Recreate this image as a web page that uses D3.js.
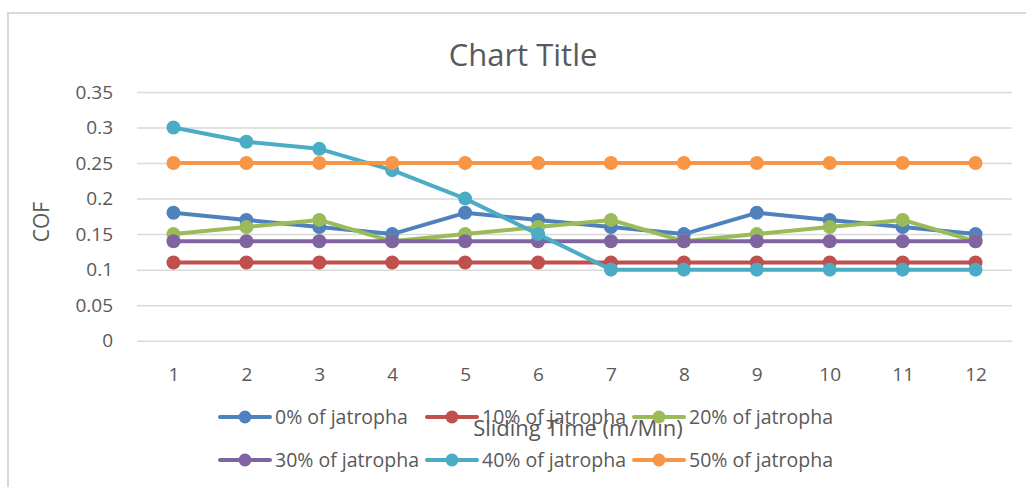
<!DOCTYPE html>
<html>
<head>
<meta charset="utf-8">
<script src="https://cdn.jsdelivr.net/npm/d3@7"></script>
<style>
  html, body { margin: 0; padding: 0; background: #fff; }
  svg { display: block; font-family: "Open Sans", "Noto Sans", sans-serif; }
</style>
</head>
<body>
<svg id="chart" width="1026" height="487"></svg>
<script>
// Sliding time categories (x axis)
const categories = [1, 2, 3, 4, 5, 6, 7, 8, 9, 10, 11, 12];

// Coefficient of friction per blend
const jatropha0  = [0.18, 0.17, 0.16, 0.15, 0.18, 0.17, 0.16, 0.15, 0.18, 0.17, 0.16, 0.15];
const jatropha10 = [0.11, 0.11, 0.11, 0.11, 0.11, 0.11, 0.11, 0.11, 0.11, 0.11, 0.11, 0.11];
const jatropha20 = [0.15, 0.16, 0.17, 0.14, 0.15, 0.16, 0.17, 0.14, 0.15, 0.16, 0.17, 0.14];
const jatropha30 = [0.14, 0.14, 0.14, 0.14, 0.14, 0.14, 0.14, 0.14, 0.14, 0.14, 0.14, 0.14];
const jatropha40 = [0.30, 0.28, 0.27, 0.24, 0.20, 0.15, 0.10, 0.10, 0.10, 0.10, 0.10, 0.10];
const jatropha50 = [0.25, 0.25, 0.25, 0.25, 0.25, 0.25, 0.25, 0.25, 0.25, 0.25, 0.25, 0.25];

const seriesNames = ["0% of jatropha", "10% of jatropha", "20% of jatropha",
                     "30% of jatropha", "40% of jatropha", "50% of jatropha"];
const yTicks = [0, 0.05, 0.1, 0.15, 0.2, 0.25, 0.3, 0.35];

const seriesValues = [jatropha0, jatropha10, jatropha20, jatropha30, jatropha40, jatropha50];
const colors = ["#4F81BD", "#C0504D", "#9BBB59", "#8064A2", "#4BACC6", "#F79646"];

const svg = d3.select("#chart");
const textColor = "#595959";

// chart frame
svg.append("path")
  .attr("d", "M8,487 V13 H1026")
  .attr("fill", "none")
  .attr("stroke", "#D9D9D9")
  .attr("stroke-width", 2);

const plot = { left: 137, right: 1012, top: 92, bottom: 340.7 };

const x = d3.scalePoint()
  .domain(categories)
  .range([plot.left, plot.right])
  .padding(0.5);

const y = d3.scaleLinear()
  .domain([0, 0.35])
  .range([plot.bottom, plot.top]);

// title
svg.append("text")
  .attr("x", 523)
  .attr("y", 66)
  .attr("text-anchor", "middle")
  .attr("font-size", 31)
  .attr("fill", textColor)
  .text("Chart Title");

// horizontal gridlines + y tick labels
const yAxis = d3.axisLeft(y)
  .tickValues(yTicks)
  .tickSize(-(plot.right - plot.left))
  .tickPadding(24)
  .tickFormat(d => d3.format("~g")(d));

const gy = svg.append("g")
  .attr("transform", `translate(${plot.left},0)`)
  .call(yAxis);
gy.select(".domain").remove();
gy.selectAll(".tick line").attr("stroke", "#D9D9D9").attr("stroke-width", 1.5);
gy.selectAll(".tick text")
  .attr("fill", textColor)
  .attr("font-size", 19)
  .attr("font-family", "'Open Sans', sans-serif");

// x tick labels
const xAxis = d3.axisBottom(x).tickSize(0).tickPadding(27);
const gx = svg.append("g")
  .attr("transform", `translate(0,${plot.bottom})`)
  .call(xAxis);
gx.select(".domain").remove();
gx.selectAll(".tick text")
  .attr("fill", textColor)
  .attr("font-size", 19)
  .attr("font-family", "'Open Sans', sans-serif");

// y axis title
svg.append("text")
  .attr("transform", "translate(49,222) rotate(-90)")
  .attr("text-anchor", "middle")
  .attr("font-size", 21)
  .attr("fill", textColor)
  .text("COF");

// series lines with markers
const line = d3.line()
  .x((d, i) => x(categories[i]))
  .y(d => y(d));

seriesValues.forEach((vals, s) => {
  const g = svg.append("g");
  g.append("path")
    .datum(vals)
    .attr("d", line)
    .attr("fill", "none")
    .attr("stroke", colors[s])
    .attr("stroke-width", 4)
    .attr("stroke-linejoin", "round")
    .attr("stroke-linecap", "round");
  g.selectAll("circle")
    .data(vals)
    .join("circle")
    .attr("cx", (d, i) => x(categories[i]))
    .attr("cy", d => y(d))
    .attr("r", 7)
    .attr("fill", colors[s]);
});

// x axis title
svg.append("text")
  .attr("x", 578)
  .attr("y", 436)
  .attr("text-anchor", "middle")
  .attr("font-size", 22)
  .attr("fill", textColor)
  .text("Sliding Time (m/Min)");

// legend: 3 columns x 2 rows
const legendCol = [220, 427, 634];
const legendRow = [417, 460];
seriesNames.forEach((name, s) => {
  const lx = legendCol[s % 3];
  const ly = legendRow[Math.floor(s / 3)];
  const g = svg.append("g").attr("transform", `translate(${lx},${ly})`);
  g.append("line")
    .attr("x1", 0).attr("x2", 50)
    .attr("y1", 0).attr("y2", 0)
    .attr("stroke", colors[s])
    .attr("stroke-width", 4)
    .attr("stroke-linecap", "round");
  g.append("circle")
    .attr("cx", 25).attr("cy", 0)
    .attr("r", 6.5)
    .attr("fill", colors[s]);
  g.append("text")
    .attr("x", 55)
    .attr("y", 0)
    .attr("dy", "0.35em")
    .attr("font-size", 19.5)
    .attr("fill", textColor)
    .text(name);
});
</script>
</body>
</html>
